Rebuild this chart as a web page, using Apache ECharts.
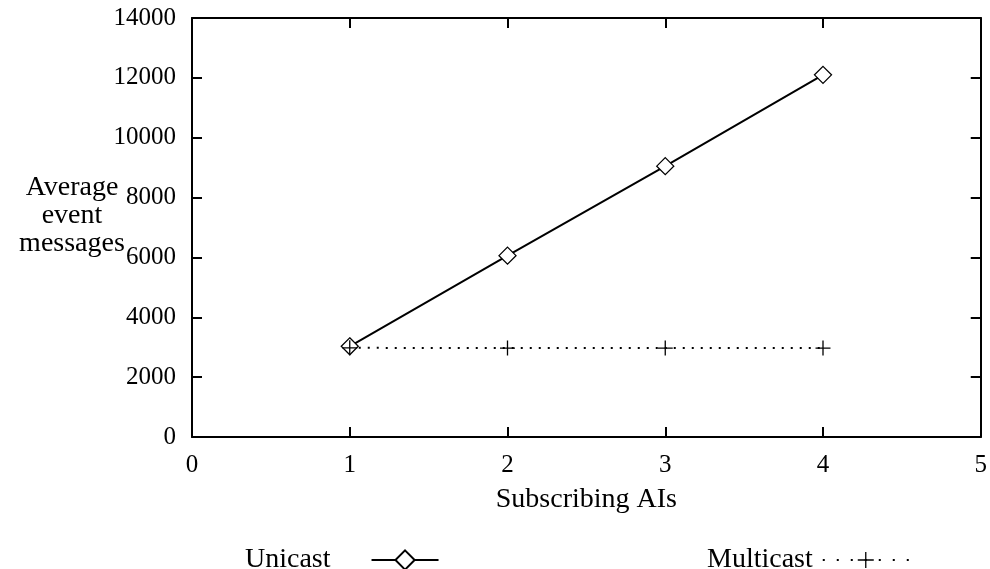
<!DOCTYPE html>
<html><head><meta charset="utf-8">
<script src="https://cdn.jsdelivr.net/npm/echarts@6/dist/echarts.min.js"></script>
<style>html,body{margin:0;padding:0;background:#fff}#c{width:990px;height:569px}</style>
</head><body><div id="c"></div>
<script>
var xValues = [1, 2, 3, 4];
var unicast = [3030, 6060, 9050, 12100];
var multicast = [2980, 2970, 2970, 2970];
var seriesNames = ['Unicast', 'Multicast'];
var xTitle = 'Subscribing AIs';
var yTitle = 'Average\nevent\nmessages';

var FONT = '"Liberation Serif", serif';
var chart = echarts.init(document.getElementById('c'));
var plus = 'path://M0,7 L14,7 M7,0 L7,14';
function axisBase(show, margin) {
  return {
    axisLine: {show: true, onZero: false, lineStyle: {color: '#000', width: 2}},
    axisTick: {show: true, inside: true, length: 10, lineStyle: {color: '#000', width: 2}},
    axisLabel: {show: show, color: '#000', fontFamily: FONT, fontSize: 25, margin: margin,
      formatter: function (v) { return String(v); }},
    splitLine: {show: false}
  };
}
chart.setOption({
  animation: false,
  grid: {left: 192, right: 7, top: 18, bottom: 132, containLabel: false},
  xAxis: [
    Object.assign({type: 'value', min: 0, max: 5, interval: 1, position: 'bottom',
      name: xTitle, nameLocation: 'middle', nameGap: 49,
      nameTextStyle: {color: '#000', fontFamily: FONT, fontSize: 28}}, axisBase(true, 16)),
    Object.assign({type: 'value', min: 0, max: 5, interval: 1, position: 'top'}, axisBase(false, 8))
  ],
  yAxis: [
    Object.assign({type: 'value', min: 0, max: 14000, interval: 2000, position: 'left'}, axisBase(true, 16)),
    Object.assign({type: 'value', min: 0, max: 14000, interval: 2000, position: 'right'}, axisBase(false, 8))
  ],
  graphic: [{
    type: 'text', x: 72, y: 174,
    style: {text: yTitle, fontFamily: FONT, fontSize: 28, fill: '#000', align: 'center', verticalAlign: 'top', lineHeight: 28}
  }],
  legend: [{
    data: [seriesNames[0]], left: 240, top: 541, align: 'right', itemWidth: 67, itemHeight: 24,
    textStyle: {color: '#000', fontFamily: FONT, fontSize: 28, padding: [0, 36, 0, 0]}
  }, {
    data: [seriesNames[1]], left: 702, top: 541, align: 'right', itemWidth: 86, itemHeight: 20,
    lineStyle: {type: [2, 12], width: 2},
    itemStyle: {borderWidth: 1.3},
    textStyle: {color: '#000', fontFamily: FONT, fontSize: 28, padding: [0, 5, 0, 0]}
  }],
  series: [{
    name: seriesNames[0], type: 'line',
    data: xValues.map(function (x, i) { return [x, unicast[i]]; }),
    symbol: 'diamond', symbolSize: 17,
    lineStyle: {color: '#000', width: 2},
    itemStyle: {color: '#fff', borderColor: '#000', borderWidth: 1.3}
  }, {
    name: seriesNames[1], type: 'line',
    data: xValues.map(function (x, i) { return [x, multicast[i]]; }),
    symbol: plus, symbolSize: 15,
    lineStyle: {color: '#000', width: 2, type: [2, 7]},
    itemStyle: {color: 'transparent', borderColor: '#000', borderWidth: 1.3}
  }]
});
</script></body></html>
